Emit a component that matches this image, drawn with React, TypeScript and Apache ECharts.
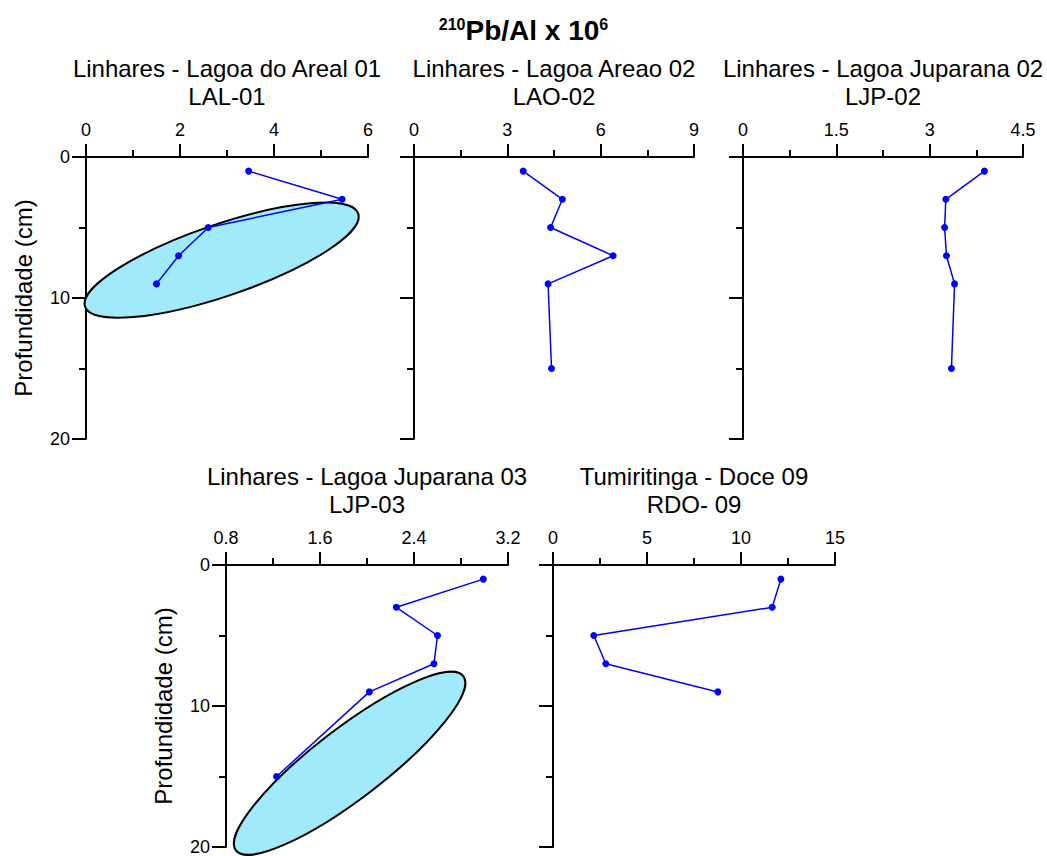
import React, { useEffect, useRef } from "react";
import * as echarts from "echarts";

const FONT = "'Liberation Sans', Arial, Helvetica, sans-serif";

// depth of each sample (cm)
const depthsA = [1, 3, 5, 7, 9];
const depthsB = [1, 3, 5, 7, 9, 15];

// 210Pb/Al x 10^6 for each core
const lal01 = [3.46, 5.45, 2.6, 1.97, 1.5];
const lao02 = [3.51, 4.77, 4.39, 6.4, 4.31, 4.42];
const ljp02 = [3.88, 3.26, 3.24, 3.27, 3.4, 3.35];
const ljp03 = [2.99, 2.25, 2.6, 2.57, 2.02, 1.23];
const rdo09 = [12.12, 11.66, 2.17, 2.81, 8.77];

const siteNames = [
  "Linhares - Lagoa do Areal 01",
  "Linhares - Lagoa Areao 02",
  "Linhares - Lagoa Juparana 02",
  "Linhares - Lagoa Juparana 03",
  "Tumiritinga - Doce 09",
];
const siteCodes = ["LAL-01", "LAO-02", "LJP-02", "LJP-03", "RDO- 09"];

// x-axis scales
const xMins = [0, 0, 0, 0.8, 0];
const xMaxs = [6, 9, 4.5, 3.2, 15];
const xSteps = [2, 3, 1.5, 0.8, 5];

// depth axis
const depthMin = 0;
const depthMax = 20;
const depthStep = 10;

// highlighted zones: [centre value, centre depth, major-axis end value, major-axis end depth, minor/major ratio]
const lal01Zone = [2.886, 7.32, 5.79, 4.02, 0.248];
const ljp03Zone = [1.852, 14.06, 2.819, 7.88, 0.246];

const yAxisTitle = "Profundidade (cm)";

const panelValues = [lal01, lao02, ljp02, ljp03, rdo09];
const panelDepths = [depthsA, depthsB, depthsB, depthsB, depthsA];
const panelZones: (number[] | null)[] = [lal01Zone, null, null, ljp03Zone, null];
const panelShowDepthLabels = [true, false, false, true, false];

const grids = [
  { left: 86, top: 157, width: 282, height: 282 },
  { left: 414, top: 157, width: 280, height: 282 },
  { left: 743, top: 157, width: 280, height: 282 },
  { left: 226, top: 565, width: 282, height: 282 },
  { left: 553, top: 565, width: 282, height: 282 },
];

function buildOption() {
  const black = "#000";
  const xAxes: any[] = [];
  const yAxes: any[] = [];
  const series: any[] = [];
  const graphics: any[] = [];

  grids.forEach((g, i) => {
    xAxes.push({
      type: "value",
      gridIndex: i,
      position: "top",
      min: xMins[i],
      max: xMaxs[i],
      interval: xSteps[i],
      axisLine: { show: true, onZero: false, lineStyle: { color: black, width: 2 } },
      axisTick: { show: true, inside: false, length: 13, lineStyle: { color: black, width: 2 } },
      minorTick: { show: true, splitNumber: 2, length: 7, lineStyle: { color: black, width: 2 } },
      splitLine: { show: false },
      minorSplitLine: { show: false },
      axisLabel: {
        show: true,
        margin: 18,
        color: black,
        fontSize: 18,
        fontFamily: FONT,
        showMinLabel: true,
        showMaxLabel: true,
        formatter: (v: number) => String(Math.round(v * 1000) / 1000),
      },
    });
    yAxes.push({
      type: "value",
      gridIndex: i,
      inverse: true,
      min: depthMin,
      max: depthMax,
      interval: depthStep,
      name: panelShowDepthLabels[i] ? yAxisTitle : "",
      nameLocation: "middle",
      nameGap: 51,
      nameTextStyle: { color: black, fontSize: 24, fontFamily: FONT },
      axisLine: { show: true, onZero: false, lineStyle: { color: black, width: 2 } },
      axisTick: { show: true, inside: false, length: 14, lineStyle: { color: black, width: 2 } },
      minorTick: { show: true, splitNumber: 2, length: 7, lineStyle: { color: black, width: 2 } },
      splitLine: { show: false },
      minorSplitLine: { show: false },
      axisLabel: {
        show: panelShowDepthLabels[i],
        margin: 16,
        color: black,
        fontSize: 18,
        fontFamily: FONT,
        showMinLabel: true,
        showMaxLabel: true,
      },
    });

    const zone = panelZones[i];
    if (zone) {
      series.push({
        type: "custom",
        xAxisIndex: i,
        yAxisIndex: i,
        z: 1,
        clip: false,
        silent: true,
        data: [zone],
        encode: { x: [0, 2], y: [1, 3] },
        renderItem: (_params: any, api: any) => {
          const c = api.coord([api.value(0), api.value(1)]);
          const e = api.coord([api.value(2), api.value(3)]);
          const dx = e[0] - c[0];
          const dy = e[1] - c[1];
          const a = Math.hypot(dx, dy);
          const b = a * api.value(4);
          return {
            type: "ellipse",
            x: c[0],
            y: c[1],
            rotation: Math.atan2(-dy, dx),
            shape: { cx: 0, cy: 0, rx: a, ry: b },
            style: { fill: "#a0eafc", stroke: black, lineWidth: 2 },
          };
        },
      });
    }

    series.push({
      type: "line",
      xAxisIndex: i,
      yAxisIndex: i,
      z: 3,
      data: panelValues[i].map((v, k) => [v, panelDepths[i][k]]),
      symbol: "circle",
      symbolSize: 7,
      lineStyle: { color: "#0000ff", width: 1.5 },
      itemStyle: { color: "#0000ff" },
      emphasis: { disabled: true },
    });

    const cx = g.left + g.width / 2;
    graphics.push({
      type: "text",
      x: cx,
      y: g.top - 89,
      style: {
        text: siteNames[i],
        fill: black,
        font: `24px ${FONT}`,
        textAlign: "center",
        textVerticalAlign: "middle",
      },
    });
    graphics.push({
      type: "text",
      x: cx,
      y: g.top - 61,
      style: {
        text: siteCodes[i],
        fill: black,
        font: `24px ${FONT}`,
        textAlign: "center",
        textVerticalAlign: "middle",
      },
    });
  });

  return {
    animation: false,
    backgroundColor: "#fff",
    title: {
      text: "{s|210}{b|Pb/Al x 10}{s|6}",
      left: "center",
      top: 11,
      textStyle: {
        rich: {
          s: { fontSize: 16, fontWeight: "bold", fontFamily: FONT, color: black, verticalAlign: "top" },
          b: { fontSize: 28, fontWeight: "bold", fontFamily: FONT, color: black },
        },
      },
    },
    grid: grids.map((g) => ({ ...g, containLabel: false })),
    xAxis: xAxes,
    yAxis: yAxes,
    series,
    graphic: graphics,
  };
}

export default function App() {
  const ref = useRef<HTMLDivElement>(null);
  useEffect(() => {
    const chart = echarts.init(ref.current!, null, { renderer: "svg" });
    chart.setOption(buildOption() as any);
    return () => chart.dispose();
  }, []);
  return (
    <div
      ref={ref}
      style={{ position: "absolute", left: 0, top: 0, width: 1047, height: 856, background: "#fff" }}
    />
  );
}
